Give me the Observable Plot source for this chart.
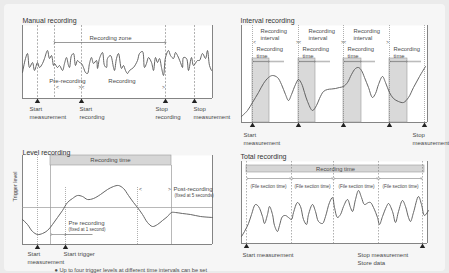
<!DOCTYPE html>
<html><head><meta charset="utf-8">
<script src="https://cdn.jsdelivr.net/npm/d3@7"></script>
<script src="https://cdn.jsdelivr.net/npm/@observablehq/plot@0.6"></script>
<style>
html,body{margin:0;padding:0;background:#ebebeb;}
#wrap{position:relative;width:449px;height:273px;overflow:hidden;background:#ebebeb;font-family:"Liberation Sans",Arial,sans-serif;}
#inner{position:absolute;left:4px;top:4px;width:441px;height:267px;background:#f6f6f6;border-radius:4px;}
.p{position:absolute;}
</style></head>
<body><div id="wrap"><div id="inner"></div></div>
<script>
// ---------- Panel 1: Manual recording ----------
const manualT = [0,3,5,7,10,12,15,17,20,22,25,27,29,31,32,35,37,40,42,44,46,47,49,51,53,55,57,59,61,63,65,67,69,71,74,75,77,80,82,84,85,88,91,92,94,96,99,101,103,105,107,111,115,117,120,122,124,126,129,131,133,135,137,139,141,143,146,148,151,153,155,158,160,161,164,166,169,171,175,177,180,183,185,187,189];
const manualV = [26,40,45,31,36,28,36,31,35,40,48,40,43,33,35,31,33,28,35,41,33,31,43,45,33,38,36,35,31,26,25,35,41,35,38,30,40,46,33,31,40,43,31,28,40,45,30,33,28,25,28,31,38,45,47,31,35,41,36,28,41,36,40,31,23,41,48,43,40,46,43,36,31,41,40,28,41,33,38,38,45,40,48,33,28];
const manualEvents = [15,32,59,143,172];
const manualMarkers = [15,59,143,172];
const manualLabels = ["Start\nmeasurement","Start\nrecording","Stop\nrecording","Stop\nmeasurement"];
const manualLabelT = [7,57,133,171];

// ---------- Panel 2: Interval recording ----------
const intervalT = [0,6,11,17,22,27,31,36,40,44,47,50,54,57,60,63,66,71,75,78,82,86,90,94,98,102,106,110,114,117,120,123,127,131,134,137,141,144,148,152,157,162,167,172,178,184];
const intervalV = [6,12,20,30,39,45,47,45,38,28,22,28,38,43,39,30,21,12,17,24,31,33,33.5,34,35,36,40,48,54,55,52,45,35,25,29,38,46,40,30,24,21,20,25,35,46,56];
const recStart = [11,57,102,148];
const recEnd = [28,74,120,166];
const intervalEvents = [11,57,102,148,183];
const intervalIntervalLabelT = [19,67,112];

// ---------- Panel 3: Level recording ----------
const levelT = [0,5,10,15,20,25,30,35,40,45,50,55,60,65,71,78,85,91,96,101,106,111,115,120,125,130,135,140,145,149,153,160,168,178,190];
const levelV = [25,20,13,10,11,14,20,27,34,42,46,49,48,45,46,50,55,58,59,56,49,42,37,30,22,18,20,24,28,32,32,31,30,28,27];
const levelMarkers = [15,43];
const levelLabels = ["Start\nmeasurement","Start trigger"];
const levelLabelT = [5,41];
const triggerLevel = [37];

// ---------- Panel 4: Total recording ----------
const totalT = [0,3,7,10,14,17,21,23,26,28,31,33,36,38,41,44,47,50,52,56,59,62,65,67,71,74,77,81,84,88,91,93,96,99,102,106,109,111,114,117,120,123,127,129,132,136,138,141,145,147,151,154,157,161,164,167,169,172,177,180,183,187];
const totalV = [7,12,20,29,39,37,27,20,29,37,29,18,12,18,27,28,26,24,31,41,37,24,19,29,39,32,22,20,27,41,46,36,26,29,37,44,36,32,44,53,46,39,41,41,36,26,19,27,37,40,32,21,32,43,37,26,22,31,47,39,28,33];
const fileBounds = [5,50,92,137,181];
const fileMid = [27,71,115,159];
const totalMarkers = [5,181];

const ink = "#4a4a4a", grid = "#7a7a7a", font = "Liberation Sans, Arial, sans-serif";
const pts = (T, V) => T.map((t, i) => ({t, v: V[i]}));
const baseStyle = {background: "transparent", overflow: "visible", fontFamily: font, color: ink};
const frameMarks = (W) => [
  Plot.frame({fill: "white", stroke: "none"}),
  Plot.ruleX([0, W], {stroke: "#666", strokeWidth: 0.8}),
  Plot.ruleY([0], {stroke: "#666", strokeWidth: 0.8})
];
function place(svg, left, top) {
  svg.classList.add("p"); svg.style.left = left + "px"; svg.style.top = top + "px";
  document.getElementById("wrap").appendChild(svg);
}

// Panel 1
place(Plot.plot({
  width: 225, height: 136, marginLeft: 22, marginRight: 13, marginTop: 25, marginBottom: 38,
  x: {domain: [0, 190], axis: null}, y: {domain: [0, 73], axis: null}, style: baseStyle,
  marks: [
    ...frameMarks(190),
    Plot.ruleX(manualEvents, {stroke: grid, strokeWidth: 0.6, strokeDasharray: "2,1.5"}),
    Plot.line(pts(manualT, manualV), {x: "t", y: "v", curve: "catmull-rom", stroke: "#555", strokeWidth: 0.9}),
    Plot.link([{a: manualEvents[1], b: manualEvents[3]}], {x1: "a", x2: "b", y1: () => 56, y2: () => 56, stroke: "#555", strokeWidth: 0.6, markerStart: "arrow", markerEnd: "arrow"}),
    Plot.text(["Recording zone"], {x: () => 88, y: () => 60.5, fontSize: 6, fill: ink}),
    Plot.text(["Pre-recording"], {x: () => 45, y: () => 17, fontSize: 6, fill: ink}),
    Plot.text(["Recording"], {x: () => 99.5, y: () => 17, fontSize: 6, fill: ink}),
    Plot.text([{t: manualEvents[1] + 3, s: "<"}, {t: manualEvents[2], s: "><"}, {t: manualEvents[3] - 2, s: ">"}], {x: "t", y: () => 11, text: "s", fontSize: 5, fill: ink}),
    Plot.dot(manualMarkers, {x: d => d, frameAnchor: "bottom", dy: 3, symbol: "triangle", r: 2, fill: "#222", stroke: "none"}),
    Plot.text(manualLabels, {x: (d, i) => manualLabelT[i], frameAnchor: "bottom", dy: 7, lineAnchor: "top", textAnchor: "start", fontSize: 6, lineHeight: 1.35, fill: ink}),
    Plot.text(["Manual recording"], {frameAnchor: "top-left", dy: -7, textAnchor: "start", fontSize: 7, fill: "#333"})
  ]
}), 0, 0);

// Panel 2
place(Plot.plot({
  width: 224, height: 136, marginLeft: 16, marginRight: 22, marginTop: 25, marginBottom: 14,
  x: {domain: [0, 186], axis: null}, y: {domain: [0, 97], axis: null}, style: baseStyle,
  marks: [
    ...frameMarks(186),
    Plot.rect(recStart, {x1: d => d, x2: (d, i) => recEnd[i], y1: () => 0, y2: () => 64, fill: "#d9d9d9", stroke: "#9a9a9a", strokeWidth: 0.6}),
    Plot.ruleX(intervalEvents, {stroke: grid, strokeWidth: 0.6, strokeDasharray: "1,1"}),
    Plot.ruleY(recStart, {y: () => 61, x1: d => d, x2: d => d + 32, stroke: "#bcbcbc", strokeWidth: 1.6}),
    Plot.link(recStart, {x1: d => d + 0.5, x2: (d, i) => recEnd[i] - 0.5, y1: () => 61, y2: () => 61, stroke: "#555", strokeWidth: 0.4, markerStart: "arrow", markerEnd: "arrow"}),
    Plot.line(pts(intervalT, intervalV), {x: "t", y: "v", curve: "catmull-rom", stroke: "#555", strokeWidth: 0.9}),
    Plot.text(intervalIntervalLabelT, {x: d => d, y: () => 88.5, text: () => "Recording\ninterval", textAnchor: "start", fontSize: 5.8, lineHeight: 1.2, fill: ink}),
    Plot.text(recStart, {x: d => d + 4, y: () => 70.5, text: () => "Recording\ntime", textAnchor: "start", fontSize: 5.8, lineHeight: 1.2, fill: ink}),
    Plot.text([{t: intervalEvents[0] + 2, s: "<"}, {t: intervalEvents[1], s: "><"}, {t: intervalEvents[2], s: "><"}, {t: intervalEvents[3] - 2, s: ">"}], {x: "t", y: () => 80, text: "s", fontSize: 4.5, fill: ink}),
    Plot.dot(intervalEvents, {x: d => d, frameAnchor: "bottom", dy: 3, symbol: "triangle", r: 2, fill: "#222", stroke: "none"}),
    Plot.text(["Start\nmeasurement", "Stop\nmeasurement"], {x: (d, i) => [2, 171][i], frameAnchor: "bottom", dy: 9, lineAnchor: "top", textAnchor: "start", fontSize: 6, lineHeight: 1.3, fill: ink}),
    Plot.text(["Interval recording"], {frameAnchor: "top-left", dy: -7, dx: -1, textAnchor: "start", fontSize: 7, fill: "#333"})
  ]
}), 225, 0);

// Panel 3
place(Plot.plot({
  width: 225, height: 137, marginLeft: 22, marginRight: 13, marginTop: 19, marginBottom: 29,
  x: {domain: [0, 190], axis: null}, y: {domain: [0, 89], axis: null}, style: baseStyle,
  marks: [
    ...frameMarks(190),
    Plot.rect([{a: 28, b: 149}], {x1: "a", x2: "b", y1: () => 79, y2: () => 89, fill: "#d6d6d6", stroke: "#9a9a9a", strokeWidth: 0.6}),
    Plot.text(["Recording time"], {x: () => 88, y: () => 84, fontSize: 6, fill: ink}),
    Plot.ruleX([28, 149], {y1: 0, y2: 79, stroke: "#9a9a9a", strokeWidth: 0.7}),
    Plot.ruleX([15], {stroke: grid, strokeWidth: 0.6, strokeDasharray: "1,1"}),
    Plot.ruleX([43, 115], {y1: 0, y2: 58, stroke: grid, strokeWidth: 0.6, strokeDasharray: "1,1"}),
    Plot.ruleY(triggerLevel, {stroke: "#9a9a9a", strokeWidth: 0.7}),
    Plot.line(pts(levelT, levelV), {x: "t", y: "v", curve: "catmull-rom", stroke: "#555", strokeWidth: 0.9}),
    Plot.text(["Trigger level"], {frameAnchor: "left", dx: -7, y: () => 43, rotate: -90, fontSize: 5.5, fill: ink}),
    Plot.text(["Pre recording"], {x: () => 46, y: () => 21, textAnchor: "start", fontSize: 6, fill: ink}),
    Plot.text(["(fixed at 1 second)"], {x: () => 46, y: () => 14.5, textAnchor: "start", fontSize: 4.5, fill: ink}),
    Plot.link([{a: 29, b: 43}], {x1: "a", x2: "b", y1: () => 10, y2: () => 10, stroke: "#555", strokeWidth: 0.5, markerStart: "arrow", markerEnd: "arrow"}),
    Plot.link([{a: 43, b: 70}], {x1: "a", x2: "b", y1: () => 10, y2: () => 10, stroke: "#555", strokeWidth: 0.6}),
    Plot.text([{t: 118, s: "<"}, {t: 147, s: ">"}], {x: "t", y: () => 55, text: "s", fontSize: 5, fill: ink}),
    Plot.text(["Post-recording"], {x: () => 151, y: () => 55, textAnchor: "start", fontSize: 6, fill: ink}),
    Plot.text(["(fixed at 5 seconds)"], {x: () => 152, y: () => 48.5, textAnchor: "start", fontSize: 4.5, fill: ink}),
    Plot.dot(levelMarkers, {x: d => d, frameAnchor: "bottom", dy: 3, symbol: "triangle", r: 2, fill: "#222", stroke: "none"}),
    Plot.text(levelLabels, {x: (d, i) => levelLabelT[i], frameAnchor: "bottom", dy: 6, lineAnchor: "top", textAnchor: "start", fontSize: 6, lineHeight: 1.3, fill: ink}),
    Plot.text(["\u25CF Up to four trigger levels at different time intervals can be set"], {frameAnchor: "bottom-left", dx: 32, dy: 27, textAnchor: "start", fontSize: 5.6, fill: ink}),
    Plot.text(["Level recording"], {frameAnchor: "top-left", dy: -5, textAnchor: "start", fontSize: 7, fill: "#333"})
  ]
}), 0, 136);

// Panel 4
place(Plot.plot({
  width: 224, height: 137, marginLeft: 16, marginRight: 22, marginTop: 25, marginBottom: 30,
  x: {domain: [0, 186], axis: null}, y: {domain: [0, 82], axis: null}, style: baseStyle,
  marks: [
    ...frameMarks(186),
    Plot.rect([{a: fileBounds[0], b: fileBounds[4] + 2}], {x1: "a", x2: "b", y1: () => 71, y2: () => 78, fill: "#d6d6d6", stroke: "#9a9a9a", strokeWidth: 0.6}),
    Plot.ruleX(fileBounds, {stroke: grid, strokeWidth: 0.6, strokeDasharray: "1.5,1.5"}),
    Plot.text(["Recording time"], {x: () => 94, y: () => 74.5, fontSize: 5.8, fill: ink}),
    Plot.link(fileMid, {x1: (d, i) => fileBounds[i] + 1, x2: (d, i) => fileBounds[i + 1] - 1, y1: () => 65, y2: () => 65, stroke: "#666", strokeWidth: 0.5, markerStart: "arrow", markerEnd: "arrow"}),
    Plot.text(fileMid, {x: d => d, y: () => 57, text: () => "(File section time)", fontSize: 4.6, fill: ink}),
    Plot.line(pts(totalT, totalV), {x: "t", y: "v", curve: "catmull-rom", stroke: "#555", strokeWidth: 0.9}),
    Plot.dot(totalMarkers, {x: d => d, frameAnchor: "bottom", dy: 3, symbol: "triangle", r: 2, fill: "#222", stroke: "none"}),
    Plot.text(["Start measurement", "Stop measurement\nStore data"], {x: (d, i) => [1, 116][i], frameAnchor: "bottom", dy: 8, lineAnchor: "top", textAnchor: "start", fontSize: 6, lineHeight: 1.35, fill: ink}),
    Plot.text(["Total recording"], {frameAnchor: "top-left", dy: -7, dx: -1, textAnchor: "start", fontSize: 7, fill: "#333"})
  ]
}), 225, 136);
</script></body></html>
